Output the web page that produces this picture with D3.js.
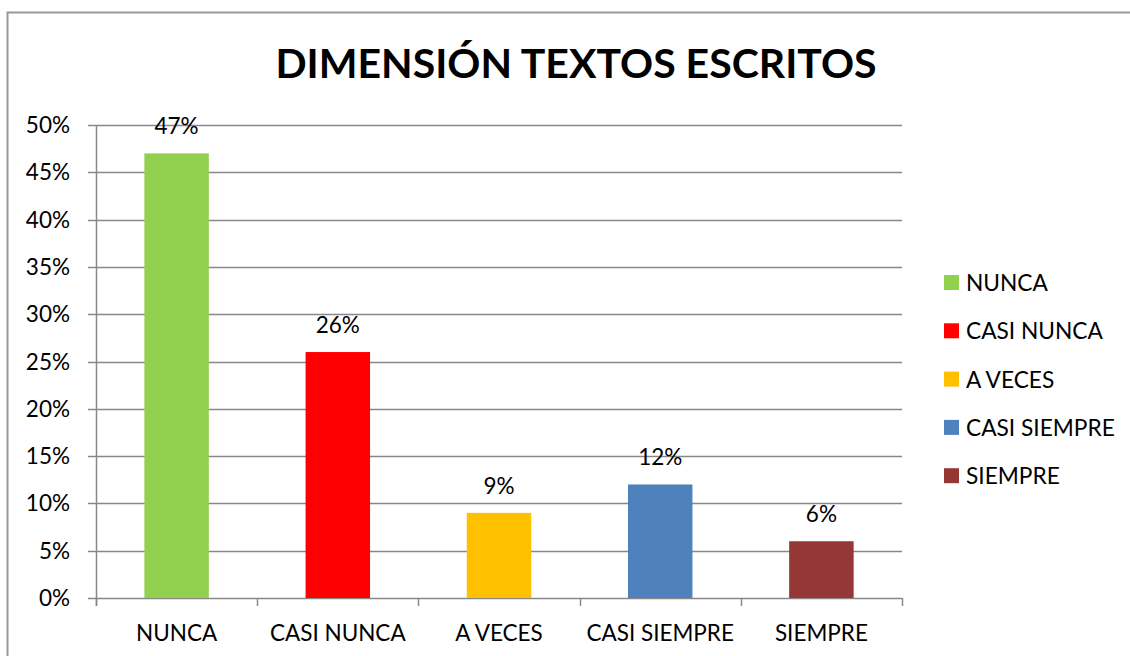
<!DOCTYPE html>
<html>
<head>
<meta charset="utf-8">
<script src="https://cdn.jsdelivr.net/npm/d3@7"></script>
<style>
  body { margin: 0; background: #fff; }
  svg text { font-family: Lato, "Noto Sans", sans-serif; fill: #000; }
</style>
</head>
<body>
<svg id="chart" width="1130" height="656"></svg>
<script>
const categories = ["NUNCA", "CASI NUNCA", "A VECES", "CASI SIEMPRE", "SIEMPRE"];
const values = [0.47, 0.26, 0.09, 0.12, 0.06];
const colors = ["#92D050", "#FF0000", "#FFC000", "#4F81BD", "#953735"];
const yTicks = [0, 0.05, 0.10, 0.15, 0.20, 0.25, 0.30, 0.35, 0.40, 0.45, 0.50];
const title = "DIMENSIÓN TEXTOS ESCRITOS";

const svg = d3.select("#chart");

// chart border
svg.append("rect")
    .attr("x", 7.5).attr("y", 12.5)
    .attr("width", 1140).attr("height", 660)
    .attr("fill", "none")
    .attr("stroke", "#9a9a9a")
    .attr("stroke-width", 2);

svg.append("text")
    .attr("x", 576).attr("y", 78)
    .attr("text-anchor", "middle")
    .style("font-size", "41px")
    .style("font-weight", "bold")
    .text(title);

const plot = { left: 96, right: 902, top: 125, bottom: 598 };

const x = d3.scaleBand()
    .domain(categories)
    .range([plot.left, plot.right])
    .paddingInner(0.6)
    .paddingOuter(0.3);

const y = d3.scaleLinear()
    .domain([0, 0.5])
    .range([plot.bottom, plot.top]);

// gridlines
svg.append("g")
    .selectAll("line")
    .data(yTicks)
    .join("line")
    .attr("x1", plot.left - 8).attr("x2", plot.right)
    .attr("y1", d => Math.round(y(d)) + 0.5).attr("y2", d => Math.round(y(d)) + 0.5)
    .attr("stroke", "#888")
    .attr("stroke-width", 1.5);

// y axis line
svg.append("line")
    .attr("x1", plot.left + 0.5).attr("x2", plot.left + 0.5)
    .attr("y1", plot.top).attr("y2", plot.bottom + 8)
    .attr("stroke", "#888").attr("stroke-width", 1.5);

// category tick marks (between bands)
const bounds = d3.range(categories.length + 1).map(i => plot.left + i * (plot.right - plot.left) / categories.length);
svg.append("g")
    .selectAll("line")
    .data(bounds)
    .join("line")
    .attr("x1", d => Math.round(d) + 0.5).attr("x2", d => Math.round(d) + 0.5)
    .attr("y1", plot.bottom).attr("y2", plot.bottom + 8)
    .attr("stroke", "#888").attr("stroke-width", 1.5);

// y tick labels
svg.append("g")
    .selectAll("text")
    .data(yTicks)
    .join("text")
    .attr("x", 70)
    .attr("y", d => y(d) + 8)
    .attr("text-anchor", "end")
    .style("font-size", "22.5px")
    .text(d => d3.format(".0%")(d));

// bars
svg.append("g")
    .selectAll("rect")
    .data(values)
    .join("rect")
    .attr("x", (d, i) => x(categories[i]))
    .attr("width", x.bandwidth())
    .attr("y", d => y(d))
    .attr("height", d => y(0) - y(d))
    .attr("fill", (d, i) => colors[i]);

// data labels
svg.append("g")
    .selectAll("text")
    .data(values)
    .join("text")
    .attr("x", (d, i) => x(categories[i]) + x.bandwidth() / 2)
    .attr("y", d => y(d) - 19)
    .attr("text-anchor", "middle")
    .style("font-size", "22.5px")
    .text(d => d3.format(".0%")(d));

// category labels
svg.append("g")
    .selectAll("text")
    .data(categories)
    .join("text")
    .attr("x", d => x(d) + x.bandwidth() / 2)
    .attr("y", 641)
    .attr("text-anchor", "middle")
    .style("font-size", "22.5px")
    .text(d => d);

// legend
const legend = svg.append("g")
    .selectAll("g")
    .data(categories)
    .join("g")
    .attr("transform", (d, i) => `translate(944, ${283 + i * 48.3})`);

legend.append("rect")
    .attr("x", 0).attr("y", -8)
    .attr("width", 15).attr("height", 15)
    .attr("fill", (d, i) => colors[i]);

legend.append("text")
    .attr("x", 22).attr("y", 8)
    .style("font-size", "22.7px")
    .text(d => d);
</script>
</body>
</html>
